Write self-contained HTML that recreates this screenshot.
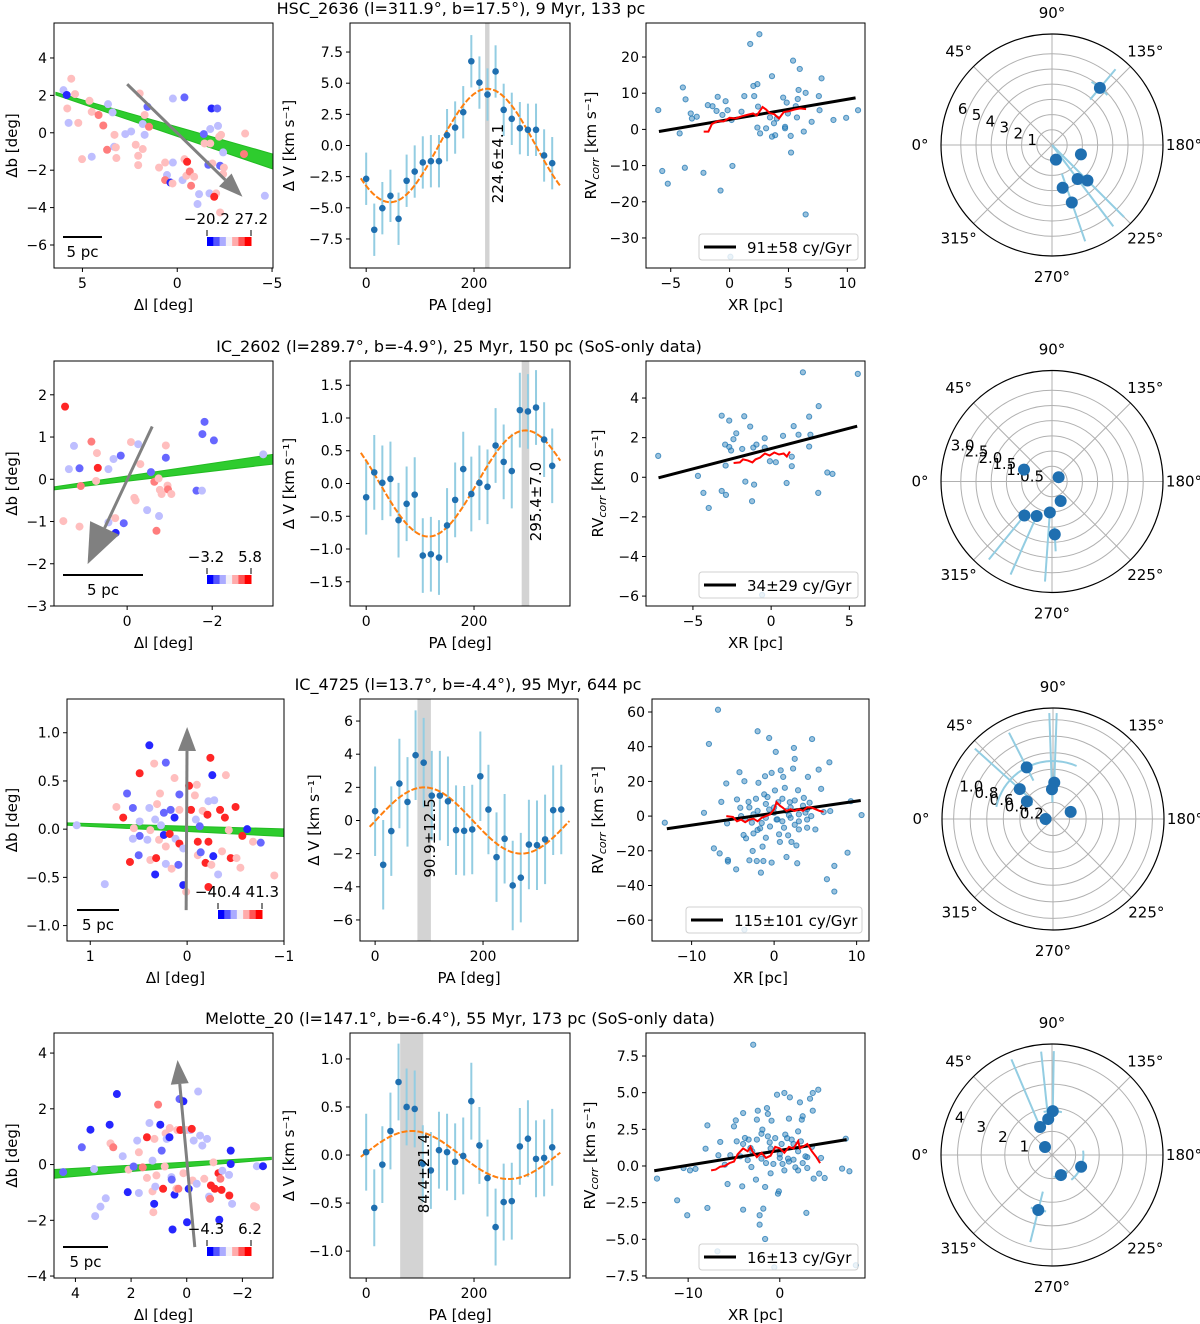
<!DOCTYPE html>
<html><head><meta charset="utf-8"><title>Cluster kinematics</title>
<style>
html,body{margin:0;padding:0;background:#fff;}
svg{display:block;font-family:"DejaVu Sans","Liberation Sans",sans-serif;}
</style></head>
<body>
<svg id="fig" width="1200" height="1324" viewBox="0 0 1200 1324" xmlns="http://www.w3.org/2000/svg"></svg>
<script>
// ================= DATA =================
// Row 1: HSC_2636
const r1SkyL=[6.0,5.59,5.39,5.83,5.80,5.73,5.22,4.63,4.51,4.15,3.90,3.65,3.41,3.31,3.33,3.24,3.70,3.21,4.51,5.02,2.74,2.43,2.19,2.06,2.06,1.82,1.72,1.72,1.82,1.98,1.57,1.49,0.96,0.64,0.54,0.64,0.36,0.25,0.23,0.23,-0.38,-0.38,-0.52,-0.28,-0.48,-0.66,-0.89,-0.73,-1.15,-1.07,-1.40,-1.44,-1.74,-1.74,-1.81,-2.11,-2.15,-2.21,-2.31,-2.42,-1.64,-1.85,-2.26,-2.46,-2.42,-1.70,-2.05,-1.95,-2.26,-3.58,-3.52,-4.62];
const r1SkyB=[2.28,2.89,2.07,2.02,1.30,0.53,0.53,1.71,1.12,0.95,0.39,1.53,1.09,-0.11,-0.75,-0.78,-0.91,-1.35,-1.28,-1.41,-0.07,0.07,-0.64,-1.23,-1.73,-0.87,-0.11,0.95,0.47,2.10,1.39,0.32,-1.86,-1.59,-2.26,-2.53,-2.66,-2.71,-1.59,1.83,1.89,-1.41,-1.55,-2.53,-2.30,-2.07,-2.35,-2.83,-3.28,-3.81,-0.07,-0.57,-0.57,0.20,1.30,1.30,0.37,-0.21,-0.11,-1.05,-1.71,-1.64,-1.76,-1.86,-2.21,-3.24,-3.24,-3.42,-4.26,-0.04,-1.14,-3.37];
const r1SkyC=[-0.3,0.3,0.3,-1,0.3,-0.3,0.3,0.3,0.3,0.6,0.6,-0.3,-0.3,0.3,-0.3,0.3,0.6,0.3,-0.3,0.3,-0.3,-0.3,0.3,0.3,0.3,0.3,-0.3,0.3,-0.3,0.3,-0.7,0.6,0.3,0.3,-0.3,0.6,-1,0.3,-0.3,-0.3,-0.7,0.3,1,-0.3,0.3,0.6,0.3,0.6,-0.3,-0.3,-0.7,0.3,0.3,-0.3,-1,-0.7,-0.3,0.3,0.3,-0.3,-0.7,0.3,-0.7,0.3,0.3,-0.3,0.3,1,0.3,0.3,0.6,-0.3];
const r1BandTop=[[6.4,2.16],[-5.05,-1.14]];
const r1BandBot=[[6.4,2.02],[-5.05,-1.94]];
const r1Arrow=[[2.64,2.60],[-3.44,-3.42]];
const r1CbarLabels=["−20.2 27.2"];
const r1PA=[0,15,30,45,60,75,90,105,120,135,150,165,180,195,210,225,240,255,270,285,300,315,330,345];
const r1DV=[-2.67,-6.76,-5.03,-4.04,-5.88,-2.83,-2.09,-1.36,-1.26,-1.26,0.83,1.44,2.67,6.76,5.05,4.09,5.94,2.86,2.14,1.39,1.26,1.26,-0.80,-1.42];
const r1DVerr=[2.1,2.1,2.1,2.1,2.1,2.1,2.1,2.1,2.1,2.1,2.1,2.1,2.1,2.1,2.1,2.1,2.1,2.1,2.1,2.1,2.1,2.1,2.1,2.1];
const r1Fit=[4.55,224.6,4.1];
const r1FitLabel=["224.6±4.1"];
const r1XR=[-6.06,-5.72,-5.25,-4.24,-3.97,-3.74,-3.30,-3.20,-2.79,-3.80,-2.22,-1.85,-1.45,-1.01,-1.11,-0.77,-0.61,-0.34,-0.17,0.24,0.17,1.01,1.25,1.75,2.02,2.36,2.09,2.53,2.42,2.36,2.59,3.10,3.43,3.60,3.60,3.87,3.77,4.01,4.55,4.71,4.71,4.85,4.95,5.19,5.22,5.39,5.62,5.72,5.79,5.86,5.96,6.30,6.46,6.46,6.97,7.58,7.64,7.81,8.82,9.90,10.91,0.07];
const r1RV=[5.34,-11.5,-15.0,-1.1,11.6,8.3,4.4,3.0,3.5,-10.6,-12.0,6.7,6.4,9.0,5.1,-16.9,4.0,7.8,5.3,-10.1,2.6,4.9,9.2,23.6,12.0,12.5,9.2,26.3,6.3,0.5,-1.1,0.3,3.3,14.7,-2.0,-1.6,1.7,3.0,8.8,0.7,0.3,7.4,4.4,-1.8,-6.4,19.0,6.4,3.3,8.4,10.9,16.7,-0.6,10.1,-23.5,2.1,9.2,5.3,14.1,2.6,3.2,5.3,-35.2];
const r1Line=[0.557,2.75,-6.0,10.7];
const r1RunX=[-2.2,-1.8,-1.5,-1,-0.5,0,0.5,1,1.5,2,2.3,2.8,3.1,3.4,3.8,4.2,4.6,5,5.5,6,6.5];
const r1RunY=[-0.6,-0.6,1.5,2.3,2.2,3.2,3.0,3.6,4.0,4.4,3.8,6.2,5.5,4.5,4.2,3.0,4.8,5.0,5.5,5.8,5.6];
const r1Legend=["91±58 cy/Gyr"];
const r1PolTh=[130,255,198,233,225,256,251];
const r1PolR=[4.9,1.0,2.0,2.8,3.3,2.9,4.0];
const r1PolRlo=[3.9,0.7,1.8,0.1,0.0,2.5,2.0];
const r1PolRhi=[6.5,1.3,2.2,6.7,6.7,3.3,6.7];
const r1PolThErr=[8,4,4,2,2,4,3];
const r1PolRings=[1,2,3,4,5,6,7.3];
const r1PolLabels=["1","2","3","4","5","6"];

// Row 2: IC_2602
const r2SkyL=[1.46,1.25,1.37,1.12,1.50,1.12,1.09,0.84,0.71,0.69,0.73,0.44,0.32,0.15,0.28,0.44,0.27,0.08,-0.09,-0.26,-0.31,-0.17,-0.20,-0.47,-0.56,-0.64,-0.74,-0.77,-0.81,-0.75,-0.69,-0.91,-0.91,-0.95,-0.96,-1.04,-1.63,-1.76,-1.77,-1.82,-2.04,-3.20];
const r2SkyB=[1.72,0.79,0.24,0.26,-0.99,-1.12,-0.16,0.89,0.62,0.27,-0.04,0.24,0.48,0.56,-0.92,-1.02,-1.27,-1.04,0.88,0.83,0.36,-0.44,-0.50,-0.73,0.17,-0.06,0.02,-0.25,-0.35,-0.87,-1.22,0.80,0.51,-0.15,-0.24,-0.35,-0.27,-0.27,1.07,1.36,0.92,0.59];
const r2SkyC=[1,-0.3,-0.3,-0.7,0.3,0.3,0.6,0.6,0.3,1,0.3,-0.3,-0.3,-0.7,0.3,-0.3,-1,-0.7,0.3,-0.3,0.3,0.3,0.3,-0.3,-0.7,0.6,0.3,0.3,0.3,-0.3,0.6,0.3,-0.7,0.3,0.6,0.3,-0.7,-0.3,-0.7,-0.7,-0.7,-0.3];
const r2BandTop=[[1.72,-0.18],[-3.43,0.59]];
const r2BandBot=[[1.72,-0.25],[-3.43,0.36]];
const r2Arrow=[[-0.59,1.25],[0.93,-2.01]];
const r2CbarLabels=["−3.2","5.8"];
const r2PA=[0,15,30,45,60,75,90,105,120,135,150,165,180,195,210,225,240,255,270,285,300,315,330,345];
const r2DV=[-0.21,0.17,0.01,0.07,-0.56,-0.31,-0.17,-1.10,-1.08,-1.13,-0.64,-0.25,0.22,-0.16,0.01,-0.05,0.58,0.33,0.19,1.12,1.10,1.16,0.67,0.27];
const r2DVerr=[0.57,0.57,0.57,0.57,0.57,0.57,0.57,0.57,0.57,0.57,0.57,0.57,0.57,0.57,0.57,0.57,0.57,0.57,0.57,0.57,0.57,0.57,0.57,0.57];
const r2Fit=[0.81,295.4,7.0];
const r2FitLabel=["295.4±7.0"];
const r2XR=[-7.22,-4.68,-4.33,-3.99,-3.16,-2.94,-2.91,-3.16,-2.89,-2.68,-2.68,-2.56,-2.41,-2.23,-1.85,-1.72,-1.65,-1.34,-1.22,-1.14,-1.09,-0.94,-0.41,-0.41,-0.08,0.30,-0.58,0.76,0.99,1.32,1.32,1.44,1.75,2.03,2.43,2.51,2.43,3.04,3.01,3.59,3.92,5.54];
const r2RV=[1.08,0.07,-0.79,-1.55,3.11,1.65,0.59,-0.69,-0.89,2.86,1.53,1.35,1.92,2.22,1.43,3.08,-0.22,2.56,-1.21,1.50,-0.37,1.65,1.97,1.50,0.81,0.76,-5.94,2.09,-0.29,1.04,0.56,2.58,2.15,5.30,3.06,2.15,1.55,3.59,-0.79,0.24,0.17,5.22];
const r2Line=[0.205,1.45,-7.2,5.5];
const r2RunX=[-2.4,-2,-1.8,-1.5,-1.2,-1,-0.7,-0.4,-0.1,0.2,0.5,0.8,1.0,1.2];
const r2RunY=[0.72,0.75,0.9,0.85,0.75,0.9,1.0,1.2,1.1,1.25,1.15,1.2,1.05,1.3];
const r2Legend=["34±29 cy/Gyr"];
const r2PolTh=[23,147,246,309,294,274,267];
const r2PolR=[1.0,0.26,0.7,1.44,1.24,1.02,1.74];
const r2PolRlo=[0.9,0.2,0.6,1.3,1.1,0.9,1.5];
const r2PolRhi=[1.1,0.35,0.8,3.3,3.35,3.3,2.3];
const r2PolThErr=[3,5,5,3,3,3,3];
const r2PolRings=[0.5,1.0,1.5,2.0,2.5,3.0,3.65];
const r2PolLabels=["0.5","1.0","1.5","2.0","2.5","3.0"];

// Row 3: IC_4725
const r3SkyL=[1.14,0.85,0.73,0.66,0.59,0.62,0.56,0.55,0.49,0.49,0.49,0.50,0.56,0.39,0.34,0.39,0.38,0.38,0.32,0.33,0.33,0.31,0.28,0.29,0.22,0.24,0.24,0.22,0.22,0.17,0.18,0.16,0.13,0.13,0.12,0.09,0.08,0.08,0.08,0.04,0.01,0.04,-0.02,-0.04,-0.08,-0.10,-0.09,-0.11,-0.13,-0.11,-0.14,-0.16,-0.19,-0.22,-0.21,-0.22,-0.24,-0.26,-0.22,-0.25,-0.27,-0.32,-0.34,-0.36,-0.39,-0.40,-0.43,-0.45,-0.50,-0.51,-0.55,-0.57,-0.62,-0.68,-0.76,-0.90,-0.28,0.41,0.27];
const r3SkyB=[0.04,-0.57,0.23,0.12,-0.34,0.37,0.22,0.01,0.58,0.08,-0.07,-0.27,-0.10,0.87,0.68,0.22,-0.01,-0.32,-0.30,-0.47,0.10,0.26,0.37,-0.11,0.69,0.17,-0.06,-0.18,-0.36,0.20,-0.05,-0.41,0.53,0.12,-0.10,-0.37,0.36,0.20,-0.15,-0.58,-0.65,-0.20,0.45,0.20,0.35,0.46,0.10,-0.13,0.03,-0.27,-0.24,0.19,-0.35,0.29,0.15,-0.13,0.74,0.56,-0.60,-0.37,-0.28,-0.47,0.20,-0.23,0.12,0.56,-0.01,-0.30,0.23,-0.30,-0.40,-0.07,0.00,-0.13,-0.14,-0.48,0.30,-0.11,0.04];
const r3SkyC=[-0.3,-0.3,0.3,1,1,-0.7,-0.7,0.3,1,-0.3,-0.7,-0.7,-0.3,-1,0.3,-0.3,0.3,0.3,1,-1,-0.3,0.3,0.3,0.3,-0.7,-0.7,-1,0.3,-0.3,-0.7,1,0.3,0.3,-1,-0.3,-0.7,-0.7,0.3,1,-1,0.3,-0.3,1,1,0.3,0.3,-0.3,1,-0.7,0.3,-0.7,0.3,1,-0.3,1,1,1,-1,1,0.3,-1,-0.3,1,0.3,1,0.3,0.3,1,1,0.3,0.3,1,-1,0.3,-0.7,0.3,-0.3,-0.3,-0.3];
const r3BandTop=[[1.24,0.065],[-1.0,0.003]];
const r3BandBot=[[1.24,0.04],[-1.0,-0.076]];
const r3Arrow=[[0.01,-0.84],[0.0,1.06]];
const r3CbarLabels=["−40.4 41.3"];
const r3PA=[0,15,30,45,60,75,90,105,120,135,150,165,180,195,210,225,240,255,270,285,300,315,330,345];
const r3DV=[0.56,-2.67,-0.64,2.23,1.12,3.94,3.49,1.5,1.5,1.16,-0.58,-0.62,-0.54,2.67,0.66,-2.21,-1.10,-3.92,-3.45,-1.45,-1.49,-1.14,0.62,0.66];
const r3DVerr=[2.7,2.7,2.7,2.7,2.7,2.7,2.7,2.7,2.7,2.7,2.7,2.7,2.7,2.7,2.7,2.7,2.7,2.7,2.7,2.7,2.7,2.7,2.7,2.7];
const r3Fit=[2.0,90.9,12.5];
const r3FitLabel=["90.9±12.5"];
const r3XR=[-13.25,-8.5,-7.9,-7.3,-6.8,-6.6,-6.4,-5.8,-5.6,-5.6,-5.7,-4.6,-4.5,-4.2,-4.1,-3.7,-3.6,-3.4,-3.1,-3.0,-2.7,-2.6,-2.5,-2.2,-2.1,-2.0,-1.9,-1.7,-1.6,-1.4,-1.3,-1.2,-1.1,-1.0,-0.6,-0.6,-0.3,-0.3,0.1,0.2,0.4,0.6,0.7,0.8,1.1,1.2,1.3,1.5,1.7,1.9,2.1,2.3,2.4,2.5,2.7,2.8,2.9,3.0,3.6,4.0,4.1,4.3,4.6,5.0,5.4,5.7,6.0,6.4,6.7,6.8,7.3,7.3,8.9,9.3,10.6,-3.6,-3,-2,-1,0,1,2,3,4,-3.5,-1.5,0.5,1.5,2.5,3.5,4.5,-2.5,-0.5,1,2,3,-4,0,-1,2.5,4,-2,1.8,-0.8,0.3,3.8];
const r3RV=[-3.8,1.9,41.6,-18.6,61.3,-21.5,8.2,18.8,-25.3,-26.2,-4.2,-30.7,9.6,25.3,4.8,-10.9,20.1,-12.8,8.2,-25.5,-3.8,-20.1,-10.0,10.0,-25.9,48.9,19.2,-7.1,-32.6,-17.6,-25.9,12.5,23.0,-12.5,45.0,3.8,24.9,-26.8,14.8,37.0,-1.9,-10.5,-14.9,26.4,22.6,-6.7,16.3,-23.6,-11.1,8.0,-14.9,27.4,39.3,33.0,-16.9,-27.2,14.9,-7.7,10.5,-6.7,22.6,7.7,44.4,-7.7,26.8,15.7,2.3,-36.4,31.0,2.9,-28.7,-43.5,-21.1,8.6,0.6,-65.5,5,3,7,2,-3,5,1,-2,-2,-4,8,3,-5,6,0,1,-6,10,-1,-3,0,5,-1,9,4,-8,0.5,11,-2,2];
const r3Line=[0.694,1.72,-13.0,10.5];
const r3RunX=[-5.8,-5,-4.5,-4,-3.5,-3,-2.5,-2,-1.5,-1,-0.5,0,0.3,0.7,1,1.5,2,2.5,3,3.5,4,4.5,5,5.5,6];
const r3RunY=[0,-0.5,-3,-2,-3.5,-2,-1.5,-3,-1,0,1,4,8,6,5,3,4,3,4,3,5,5,4,3,2.5];
const r3Legend=["115±101 cy/Gyr"];
const r3PolTh=[63,92,88,42,34,0,158];
const r3PolR=[0.70,0.44,0.36,0.54,0.38,0.09,0.23];
const r3PolRlo=[0.52,0.3,0.2,0.35,0.3,0.06,0.2];
const r3PolRhi=[1.17,1.28,1.28,1.27,0.45,0.12,0.26];
const r3PolThErr=[51,6,4,4,3,3,3];
const r3PolRings=[0.2,0.4,0.6,0.8,1.0,1.2,1.34];
const r3PolLabels=["0.2","0.4","0.6","0.8","1.0"];

// Row 4: Melotte_20
const r4SkyL=[4.44,3.77,3.46,3.33,3.29,3.10,2.91,2.77,2.74,2.64,2.51,2.30,2.12,2.09,1.91,1.78,1.72,1.72,1.58,1.43,1.43,1.34,1.23,1.23,1.20,1.17,1.16,1.09,1.13,1.03,0.95,0.90,0.85,0.79,0.76,0.72,0.62,0.61,0.55,0.54,0.44,0.37,0.51,0.34,0.30,0.26,0.23,0.12,0.12,0.01,-0.01,-0.07,-0.14,-0.18,-0.21,-0.25,-0.36,-0.41,-0.48,-0.56,-0.63,-0.73,-0.80,-0.84,-0.87,-0.96,-1.01,-1.14,-1.17,-1.21,-1.25,-1.28,-1.52,-1.53,-1.58,-1.58,-1.63,-2.42,-2.49,-2.52,-2.74];
const r4SkyB=[-0.27,0.62,1.25,-0.16,-1.85,-1.51,-1.21,1.43,0.76,0.62,2.53,0.30,-0.99,-0.18,-0.07,0.86,0.44,-1.02,-0.10,0.98,-0.48,1.49,0.14,-0.96,-1.71,-1.41,0.92,-0.39,-0.79,2.15,1.43,0.50,-0.87,-0.07,1.12,0.92,0.98,1.31,-0.45,-0.54,-1.08,-0.87,-2.33,1.24,-0.87,2.35,1.24,2.27,-0.31,1.24,-2.07,-0.87,1.24,1.28,-0.57,0.86,-0.69,2.62,1.04,0.68,-0.51,0.92,-1.15,-1.23,-0.75,0.08,-0.87,-0.31,-1.98,-0.51,-0.91,-0.22,-0.37,-1.11,0.50,0.02,-1.41,-1.49,-1.53,-0.06,-0.06];
const r4SkyC=[-0.7,-0.7,-1,-0.3,-0.3,-0.3,-0.3,-1,0.3,0.6,-1,-0.3,-1,0.3,-0.7,-0.3,0.3,-0.3,0.6,1,0.3,-0.3,-0.3,0.3,0.3,-1,0.3,0.3,-0.3,0.6,-1,-0.7,1,0.3,0.3,-0.3,-1,0.3,-0.3,-0.7,-1,0.3,-1,0.3,0.6,-0.7,1,-1,0.3,0.3,-1,-1,-0.3,1,0.3,-0.3,-0.3,-0.3,-0.3,-0.3,0.3,-0.3,-0.3,0.6,1,0.3,1,1,-1,0.6,1,-0.3,-0.3,1,-1,-1,-0.3,0.3,0.3,-0.3,-1];
const r4BandTop=[[4.78,-0.18],[-3.04,0.26]];
const r4BandBot=[[4.78,-0.49],[-3.04,0.18]];
const r4Arrow=[[-0.29,-2.96],[0.33,3.75]];
const r4CbarLabels=["−4.3","6.2"];
const r4PA=[0,15,30,45,60,75,90,105,120,135,150,165,180,195,210,225,240,255,270,285,300,315,330,345];
const r4DV=[0.03,-0.55,-0.10,0.25,0.76,0.50,0.48,-0.09,-0.16,0.05,0.03,-0.07,-0.01,0.56,0.10,-0.24,-0.75,-0.49,-0.48,0.09,0.17,-0.04,-0.03,0.08];
const r4DVerr=[0.4,0.4,0.4,0.4,0.4,0.4,0.4,0.4,0.4,0.4,0.4,0.4,0.4,0.4,0.4,0.4,0.4,0.4,0.4,0.4,0.4,0.4,0.4,0.4];
const r4Fit=[0.25,84.4,21.4];
const r4FitLabel=["84.4±21.4"];
const r4XR=[-13.4,-11.2,-10.5,-10.1,-9.8,-9.2,-8.1,-7.9,-7.9,-6.7,-6.5,-6.0,-5.7,-5.4,-5.0,-4.8,-4.7,-4.3,-4.1,-4.0,-4.0,-3.8,-3.4,-3.2,-3.1,-2.9,-2.6,-2.5,-2.4,-2.2,-2.2,-1.9,-1.8,-1.6,-1.6,-1.4,-1.3,-1.3,-1.1,-0.9,-0.7,-0.3,-0.2,-0.1,0,0.2,0.3,0.5,0.6,0.9,1.0,1.1,1.3,1.5,1.7,2.0,2.2,2.3,2.4,2.5,2.8,2.9,3.0,3.3,3.6,3.6,3.7,4.2,4.3,4.5,4.9,6.8,7.6,7.2,-6.8,-0.6,8.3,-4,-3,-2,-1,0,1,2,3,-3.5,-2.5,-1.5,-0.5,0.5,1.5,2.5,3.5,-2,0.8,-1,2];
const r4RV=[-0.86,-2.34,-0.14,-3.36,-0.30,-0.20,1.18,2.77,-2.86,0.73,1.64,0.09,-1.23,0.73,2.70,3.11,1.68,0.66,-1.39,3.61,-2.98,1.91,1.80,1.23,-0.07,8.27,-0.93,3.16,3.77,-4.0,-3.36,2.48,-2.91,-4.98,-1.43,3.95,3.55,2.02,1.61,3.09,0.14,4.86,-1.89,-1.73,0.55,1.50,0.14,4.98,2.14,0.50,3.23,4.68,1.80,0.43,-0.09,2.36,4.34,1.68,3.16,3.39,0.66,-3.20,-0.14,4.59,4.98,3.77,-0.86,5.20,-0.52,0.55,-0.82,-0.18,-0.36,1.86,-5.82,-6.91,-6.77,1.5,1.0,0.5,1.2,0.8,0.3,1.0,0.6,0.4,1.8,0.2,1.9,-0.3,1.5,0.2,1.3,2.2,1.9,-0.5,-0.3];
const r4Line=[0.101,1.06,-13.7,7.3];
const r4RunX=[-7.5,-7,-6.5,-6,-5.5,-5,-4.6,-4.3,-4,-3.5,-3.2,-3,-2.5,-2,-1.5,-1,-0.5,0,0.5,1,1.5,2,2.2,2.5,3,3.5,4,4.4];
const r4RunY=[-0.3,-0.25,-0.05,0,0.2,0.3,0.8,1.0,1.2,1.0,1.3,1.0,0.6,0.9,0.55,0.7,1.3,1.2,0.9,1.3,1.2,1.7,1.2,1.3,1.5,1.0,0.6,0.2];
const r4Legend=["16±13 cy/Gyr"];
const r4PolTh=[91,84,67,49,202,246,284];
const r4PolR=[1.86,1.53,1.29,0.45,1.33,0.93,2.4];
const r4PolRlo=[1.6,1.3,1.1,0.4,1.2,0.85,1.6];
const r4PolRhi=[4.4,4.4,4.4,0.5,1.4,1.0,3.8];
const r4PolThErr=[12,4,3,4,30,20,8];
const r4PolRings=[1,2,3,4,4.7];
const r4PolLabels=["1","2","3","4"];

// ================= LAYOUT (positions only) =================
const NS='http://www.w3.org/2000/svg';
const svg=document.getElementById('fig');
function mk(parent,tag,attrs,name){
  const e=document.createElementNS(NS,tag);
  for(const k in attrs) e.setAttribute(k,attrs[k]);
  
  
  parent.appendChild(e);
  return e;
}
function txt(parent,x,y,s,name,opts){
  opts=opts||{};
  const t=mk(parent,'text',{x:x,y:y,'font-size':opts.fs||14,'text-anchor':opts.anchor||'middle',fill:'#000'},name);
  if(opts.rot!==undefined) t.setAttribute('transform','rotate('+opts.rot+' '+x+' '+y+')');
  if(opts.db) t.setAttribute('dominant-baseline',opts.db);
  t.textContent=s;
  return t;
}
function fmt(v,d){ let s=v.toFixed(d); if(v<0) s='−'+s.slice(1); if(s==='−0'||s==='−0.0') s=s.slice(1); return s; }
let clipId=0;
function axes(g,box,xlim,ylim,name){
  const sx=v=>box.x0+(v-xlim[0])/(xlim[1]-xlim[0])*(box.x1-box.x0);
  const sy=v=>box.y1-(v-ylim[0])/(ylim[1]-ylim[0])*(box.y1-box.y0);
  clipId++;
  const cp=mk(g,'clipPath',{id:'c'+clipId},name+'-clip');
  mk(cp,'rect',{x:box.x0,y:box.y0,width:box.x1-box.x0,height:box.y1-box.y0},name+'-clip-rect');
  const inner=mk(g,'g',{'clip-path':'url(#c'+clipId+')'},name+'-plot-area');
  return {sx,sy,inner};
}
function frameTicks(g,box,ax,xt,xd,yt,yd,name){
  mk(g,'rect',{x:box.x0,y:box.y0,width:box.x1-box.x0,height:box.y1-box.y0,fill:'none',stroke:'#000','stroke-width':1},name+'-frame');
  xt.forEach(v=>{const x=ax.sx(v);
    mk(g,'line',{x1:x,x2:x,y1:box.y1,y2:box.y1+4,stroke:'#000'},name+'-x-tick');
    txt(g,x,box.y1+20,fmt(v,xd),name+'-x-tick-label');});
  yt.forEach(v=>{const y=ax.sy(v);
    mk(g,'line',{x1:box.x0-4,x2:box.x0,y1:y,y2:y,stroke:'#000'},name+'-y-tick');
    txt(g,box.x0-7,y+5,fmt(v,yd),name+'-y-tick-label',{anchor:'end'});});
}
function bwr(c){
  c=c*0.85;
  if(c<0){const k=Math.round(255*(1+c));return 'rgb('+k+','+k+',255)';}
  const k=Math.round(255*(1-c));return 'rgb(255,'+k+','+k+')';
}

const rows=[
 {top:23,bot:268,title:"HSC_2636 (l=311.9°, b=17.5°), 9 Myr, 133 pc",tx:461,
  A:{x0:54,x1:273,xlim:[6.5,-5.05],ylim:[-7.23,5.87],xt:[5,0,-5],xd:0,yt:[-6,-4,-2,0,2,4],yd:0,ylx:12,
     L:r1SkyL,B:r1SkyB,C:r1SkyC,bt:r1BandTop,bb:r1BandBot,arr:r1Arrow,cb:r1CbarLabels,sb:[63,102],cbx:207},
  Bp:{x0:350,x1:570,xlim:[-30,378],ylim:[-9.83,9.83],yt:[-7.5,-5,-2.5,0,2.5,5,7.5],yd:1,ylx:289,
     pa:r1PA,dv:r1DV,err:r1DVerr,fit:r1Fit,lab:r1FitLabel,labx:498},
  Cp:{x0:646,x1:865,xlim:[-7.1,11.5],ylim:[-38.3,29.4],xt:[-5,0,5,10],yt:[-30,-20,-10,0,10,20],yd:0,ylx:591,
     x:r1XR,y:r1RV,line:r1Line,rx:r1RunX,ry:r1RunY,leg:r1Legend,legx:699,legw:159},
  P:{cx:1052,cy:145,rmax:7.3,th:r1PolTh,r:r1PolR,rlo:r1PolRlo,rhi:r1PolRhi,te:r1PolThErr,rings:r1PolRings,labels:r1PolLabels}},
 {top:361,bot:606,title:"IC_2602 (l=289.7°, b=-4.9°), 25 Myr, 150 pc (SoS-only data)",tx:459,
  A:{x0:54,x1:273,xlim:[1.72,-3.43],ylim:[-3,2.8],xt:[0,-2],xd:0,yt:[-3,-2,-1,0,1,2],yd:0,ylx:12,
     L:r2SkyL,B:r2SkyB,C:r2SkyC,bt:r2BandTop,bb:r2BandBot,arr:r2Arrow,cb:r2CbarLabels,sb:[63,143],cbx:207},
  Bp:{x0:350,x1:570,xlim:[-30,378],ylim:[-1.87,1.87],yt:[-1.5,-1,-0.5,0,0.5,1,1.5],yd:1,ylx:289,
     pa:r2PA,dv:r2DV,err:r2DVerr,fit:r2Fit,lab:r2FitLabel,labx:536},
  Cp:{x0:646,x1:865,xlim:[-8.0,6.0],ylim:[-6.5,5.87],xt:[-5,0,5],yt:[-6,-4,-2,0,2,4],yd:0,ylx:598,
     x:r2XR,y:r2RV,line:r2Line,rx:r2RunX,ry:r2RunY,leg:r2Legend,legx:699,legw:159},
  P:{cx:1052,cy:481.5,rmax:3.65,th:r2PolTh,r:r2PolR,rlo:r2PolRlo,rhi:r2PolRhi,te:r2PolThErr,rings:r2PolRings,labels:r2PolLabels}},
 {top:699,bot:941,title:"IC_4725 (l=13.7°, b=-4.4°), 95 Myr, 644 pc",tx:468,
  A:{x0:67,x1:284,xlim:[1.24,-1.0],ylim:[-1.16,1.35],xt:[1,0,-1],xd:0,yt:[-1,-0.5,0,0.5,1],yd:1,ylx:12,
     L:r3SkyL,B:r3SkyB,C:r3SkyC,bt:r3BandTop,bb:r3BandBot,arr:r3Arrow,cb:r3CbarLabels,sb:[77,119],cbx:218},
  Bp:{x0:360,x1:578,xlim:[-28,376],ylim:[-7.27,7.33],yt:[-6,-4,-2,0,2,4,6],yd:0,ylx:314,
     pa:r3PA,dv:r3DV,err:r3DVerr,fit:r3Fit,lab:r3FitLabel,labx:430},
  Cp:{x0:652,x1:869,xlim:[-14.8,11.5],ylim:[-72,67.5],xt:[-10,0,10],yt:[-60,-40,-20,0,20,40,60],yd:0,ylx:598,
     x:r3XR,y:r3RV,line:r3Line,rx:r3RunX,ry:r3RunY,leg:r3Legend,legx:686,legw:176},
  P:{cx:1053,cy:819,rmax:1.34,th:r3PolTh,r:r3PolR,rlo:r3PolRlo,rhi:r3PolRhi,te:r3PolThErr,rings:r3PolRings,labels:r3PolLabels}},
 {top:1033,bot:1278,title:"Melotte_20 (l=147.1°, b=-6.4°), 55 Myr, 173 pc (SoS-only data)",tx:460,
  A:{x0:54,x1:273,xlim:[4.77,-3.1],ylim:[-4.07,4.72],xt:[4,2,0,-2],xd:0,yt:[-4,-2,0,2,4],yd:0,ylx:12,
     L:r4SkyL,B:r4SkyB,C:r4SkyC,bt:r4BandTop,bb:r4BandBot,arr:r4Arrow,cb:r4CbarLabels,sb:[63,108],cbx:207},
  Bp:{x0:350,x1:570,xlim:[-30,378],ylim:[-1.28,1.27],yt:[-1,-0.5,0,0.5,1],yd:1,ylx:289,
     pa:r4PA,dv:r4DV,err:r4DVerr,fit:r4Fit,lab:r4FitLabel,labx:424},
  Cp:{x0:646,x1:865,xlim:[-14.6,9.3],ylim:[-7.64,9.07],xt:[-10,0],yt:[-7.5,-5,-2.5,0,2.5,5,7.5],yd:1,ylx:590,
     x:r4XR,y:r4RV,line:r4Line,rx:r4RunX,ry:r4RunY,leg:r4Legend,legx:699,legw:159},
  P:{cx:1052,cy:1155,rmax:4.7,th:r4PolTh,r:r4PolR,rlo:r4PolRlo,rhi:r4PolRhi,te:r4PolThErr,rings:r4PolRings,labels:r4PolLabels}}
];

rows.forEach((R,ri)=>{
  const rn='row'+(ri+1);
  const g=mk(svg,'g',{},rn);
  txt(g,R.tx,R.top-9,R.title,rn+'-title',{fs:16});
  const top=R.top, bot=R.bot, mid=(top+bot)/2;

  // ---------- Sky panel ----------
  {const A=R.A; const box={x0:A.x0,x1:A.x1,y0:top,y1:bot};
   const ga=mk(g,'g',{},rn+'-sky-panel');
   const ax=axes(ga,box,A.xlim,A.ylim,rn+'-sky');
   const bt=A.bt,bb=A.bb;
   const pts=[[ax.sx(bt[0][0]),ax.sy(bt[0][1])],[ax.sx(bt[1][0]),ax.sy(bt[1][1])],[ax.sx(bb[1][0]),ax.sy(bb[1][1])],[ax.sx(bb[0][0]),ax.sy(bb[0][1])]];
   mk(ax.inner,'polygon',{points:pts.map(p=>p.join(',')).join(' '),fill:'#2ecc2e',stroke:'#22bb22','stroke-width':1},rn+'-fit-band');
   for(let i=0;i<A.L.length;i++){
     mk(ax.inner,'circle',{cx:ax.sx(A.L[i]),cy:ax.sy(A.B[i]),r:4,fill:bwr(A.C[i])},rn+'-star-point');
   }
   const x1=ax.sx(A.arr[0][0]),y1=ax.sy(A.arr[0][1]),x2=ax.sx(A.arr[1][0]),y2=ax.sy(A.arr[1][1]);
   const dx=x2-x1,dy=y2-y1,len=Math.hypot(dx,dy),ux=dx/len,uy=dy/len;
   const hl=ri===1?40:24, hw=ri===1?16:9;
   const bx=x2-ux*hl,by=y2-uy*hl;
   mk(ax.inner,'line',{x1:x1,y1:y1,x2:bx,y2:by,stroke:'#808080','stroke-width':3},rn+'-motion-arrow-shaft');
   mk(ax.inner,'polygon',{points:[x2+','+y2,(bx-uy*hw)+','+(by+ux*hw),(bx+uy*hw)+','+(by-ux*hw)].join(' '),fill:'#808080'},rn+'-motion-arrow-head');
   frameTicks(ga,box,ax,A.xt,A.xd,A.yt,A.yd,rn+'-sky');
   txt(ga,(A.x0+A.x1)/2,bot+42,'Δl [deg]',rn+'-sky-x-label',{fs:15});
   txt(ga,A.ylx,mid,'Δb [deg]',rn+'-sky-y-label',{fs:15,rot:-90,db:'central'});
   const sby=bot-31;
   mk(ga,'line',{x1:A.sb[0],x2:A.sb[1],y1:sby,y2:sby,stroke:'#000','stroke-width':2},rn+'-scale-bar');
   txt(ga,(A.sb[0]+A.sb[1])/2,sby+20,'5 pc',rn+'-scale-bar-label',{fs:15});
   const cbx=A.cbx,cbw=44,cby=bot-31;
   const cs=[-1,-0.67,-0.33,0,0.33,0.67,1];
   cs.forEach((c,i)=>{mk(ga,'rect',{x:cbx+i*cbw/7,y:cby,width:cbw/7+0.5,height:9,fill:c===0?'#f4f0f6':bwr(c/0.85)},rn+'-colorbar-swatch');});
   mk(ga,'polyline',{points:cbx+','+(cby-1)+' '+cbx+','+(cby-7),fill:'none',stroke:'#000'},rn+'-colorbar-tick');
   mk(ga,'polyline',{points:(cbx+cbw)+','+(cby-1)+' '+(cbx+cbw)+','+(cby-7),fill:'none',stroke:'#000'},rn+'-colorbar-tick');
   if(A.cb.length===1){ txt(ga,cbx+cbw/2-3,cby-13,A.cb[0],rn+'-colorbar-labels',{fs:15}); }
   else { txt(ga,cbx-1,cby-13,A.cb[0],rn+'-colorbar-min',{fs:15}); txt(ga,cbx+cbw-1,cby-13,A.cb[1],rn+'-colorbar-max',{fs:15}); }
  }

  // ---------- Velocity vs PA ----------
  {const B=R.Bp; const box={x0:B.x0,x1:B.x1,y0:top,y1:bot};
   const gb=mk(g,'g',{},rn+'-pa-panel');
   const ax=axes(gb,box,B.xlim,B.ylim,rn+'-pa');
   const amp=B.fit[0],ctr=B.fit[1],er=B.fit[2];
   mk(ax.inner,'rect',{x:ax.sx(ctr-er),y:top,width:ax.sx(ctr+er)-ax.sx(ctr-er),height:bot-top,fill:'#d3d3d3'},rn+'-pa-best-band');
   for(let i=0;i<B.pa.length;i++){
     mk(ax.inner,'line',{x1:ax.sx(B.pa[i]),x2:ax.sx(B.pa[i]),y1:ax.sy(B.dv[i]-B.err[i]),y2:ax.sy(B.dv[i]+B.err[i]),stroke:'#93cde2','stroke-width':2},rn+'-pa-errorbar');
   }
   let d='';
   for(let p=-10;p<=360;p+=2){ const v=amp*Math.cos((p-ctr)*Math.PI/180); d+=(p===-10?'M':'L')+ax.sx(p).toFixed(1)+','+ax.sy(v).toFixed(1); }
   mk(ax.inner,'path',{d:d,fill:'none',stroke:'#ff7f0e','stroke-width':2,'stroke-dasharray':'6,2'},rn+'-pa-sine-fit');
   for(let i=0;i<B.pa.length;i++){
     mk(ax.inner,'circle',{cx:ax.sx(B.pa[i]),cy:ax.sy(B.dv[i]),r:3.3,fill:'#1f6fb0'},rn+'-pa-point');
   }
   txt(gb,B.labx,mid+18,B.lab[0],rn+'-pa-fit-label',{fs:15,rot:-90,db:'central'});
   frameTicks(gb,box,ax,[0,200],0,B.yt,B.yd,rn+'-pa');
   txt(gb,(B.x0+B.x1)/2,bot+42,'PA [deg]',rn+'-pa-x-label',{fs:15});
   txt(gb,B.ylx,mid,'Δ V [km s⁻¹]',rn+'-pa-y-label',{fs:15,rot:-90,db:'central'});
  }

  // ---------- RV vs XR ----------
  {const C=R.Cp; const box={x0:C.x0,x1:C.x1,y0:top,y1:bot};
   const gc=mk(g,'g',{},rn+'-rv-panel');
   const ax=axes(gc,box,C.xlim,C.ylim,rn+'-rv');
   for(let i=0;i<C.x.length;i++){
     mk(ax.inner,'circle',{cx:ax.sx(C.x[i]),cy:ax.sy(C.y[i]),r:2.6,fill:'#1f77b4','fill-opacity':0.45,stroke:'#1f77b4','stroke-opacity':0.75,'stroke-width':1},rn+'-rv-point');
   }
   const L=C.line;
   mk(ax.inner,'line',{x1:ax.sx(L[2]),y1:ax.sy(L[1]+L[0]*L[2]),x2:ax.sx(L[3]),y2:ax.sy(L[1]+L[0]*L[3]),stroke:'#000','stroke-width':3},rn+'-rv-fit-line');
   let d='';
   for(let i=0;i<C.rx.length;i++) d+=(i?'L':'M')+ax.sx(C.rx[i]).toFixed(1)+','+ax.sy(C.ry[i]).toFixed(1);
   mk(ax.inner,'path',{d:d,fill:'none',stroke:'#ff0000','stroke-width':2},rn+'-rv-running-mean');
   const ly=bot-34;
   mk(gc,'rect',{x:C.legx,y:ly,width:C.legw,height:26,rx:3,fill:'#fff','fill-opacity':0.8,stroke:'#d0d0d0'},rn+'-legend-box');
   mk(gc,'line',{x1:C.legx+5,x2:C.legx+37,y1:ly+13,y2:ly+13,stroke:'#000','stroke-width':3},rn+'-legend-line');
   txt(gc,C.legx+48,ly+19,C.leg[0],rn+'-legend-label',{anchor:'start',fs:15});
   frameTicks(gc,box,ax,C.xt,0,C.yt,C.yd,rn+'-rv');
   txt(gc,(C.x0+C.x1)/2,bot+42,'XR [pc]',rn+'-rv-x-label',{fs:15});
   const yl=txt(gc,C.ylx,mid,'',rn+'-rv-y-label',{fs:15,rot:-90,db:'central'});
   const t1=document.createElementNS(NS,'tspan'); t1.textContent='RV'; yl.appendChild(t1);
   const t2=document.createElementNS(NS,'tspan'); t2.setAttribute('font-style','italic'); t2.setAttribute('font-size','11'); t2.setAttribute('dy','4'); t2.textContent='corr'; yl.appendChild(t2);
   const t3=document.createElementNS(NS,'tspan'); t3.setAttribute('dy','-4'); t3.textContent=' [km s⁻¹]'; yl.appendChild(t3);
  }

  // ---------- Polar ----------
  {const P=R.P; const gp=mk(g,'g',{},rn+'-polar-panel');
   const Rr=111, cx=P.cx, cy=P.cy;
   const px=(th,r)=>cx-(r/P.rmax)*Rr*Math.cos(th*Math.PI/180);
   const py=(th,r)=>cy-(r/P.rmax)*Rr*Math.sin(th*Math.PI/180);
   P.rings.forEach((r,i)=>{ if(i<P.rings.length-1) mk(gp,'circle',{cx:cx,cy:cy,r:r/P.rmax*Rr,fill:'none',stroke:'#b0b0b0','stroke-width':1},rn+'-polar-ring'); });
   for(let a=0;a<360;a+=45){
     mk(gp,'line',{x1:cx,y1:cy,x2:px(a,P.rmax),y2:py(a,P.rmax),stroke:'#b0b0b0','stroke-width':1},rn+'-polar-spoke');
     const lx=cx-(Rr+21)*Math.cos(a*Math.PI/180), lyy=cy-(Rr+21)*Math.sin(a*Math.PI/180);
     txt(gp,lx,lyy+5,a+'°',rn+'-polar-angle-label',{fs:15});
   }
   mk(gp,'circle',{cx:cx,cy:cy,r:Rr,fill:'none',stroke:'#000','stroke-width':1.2},rn+'-polar-outline');
   P.labels.forEach((s,i)=>{
     const r=P.rings[i];
     txt(gp,px(24,r)-6,py(24,r)+6,s,rn+'-polar-radius-label',{fs:15});
   });
   for(let i=0;i<P.th.length;i++){
     mk(gp,'line',{x1:px(P.th[i],P.rlo[i]),y1:py(P.th[i],P.rlo[i]),x2:px(P.th[i],P.rhi[i]),y2:py(P.th[i],P.rhi[i]),stroke:'#93cde2','stroke-width':2},rn+'-polar-radial-error');
     let d='';
     for(let k=0;k<=20;k++){ const t=P.th[i]-P.te[i]+2*P.te[i]*k/20; d+=(k?'L':'M')+px(t,P.r[i]).toFixed(1)+','+py(t,P.r[i]).toFixed(1); }
     mk(gp,'path',{d:d,fill:'none',stroke:'#93cde2','stroke-width':2},rn+'-polar-angle-error');
   }
   for(let i=0;i<P.th.length;i++){
     mk(gp,'circle',{cx:px(P.th[i],P.r[i]),cy:py(P.th[i],P.r[i]),r:6,fill:'#1f6fb0'},rn+'-polar-point');
   }
  }
});
</script>
</body></html>
